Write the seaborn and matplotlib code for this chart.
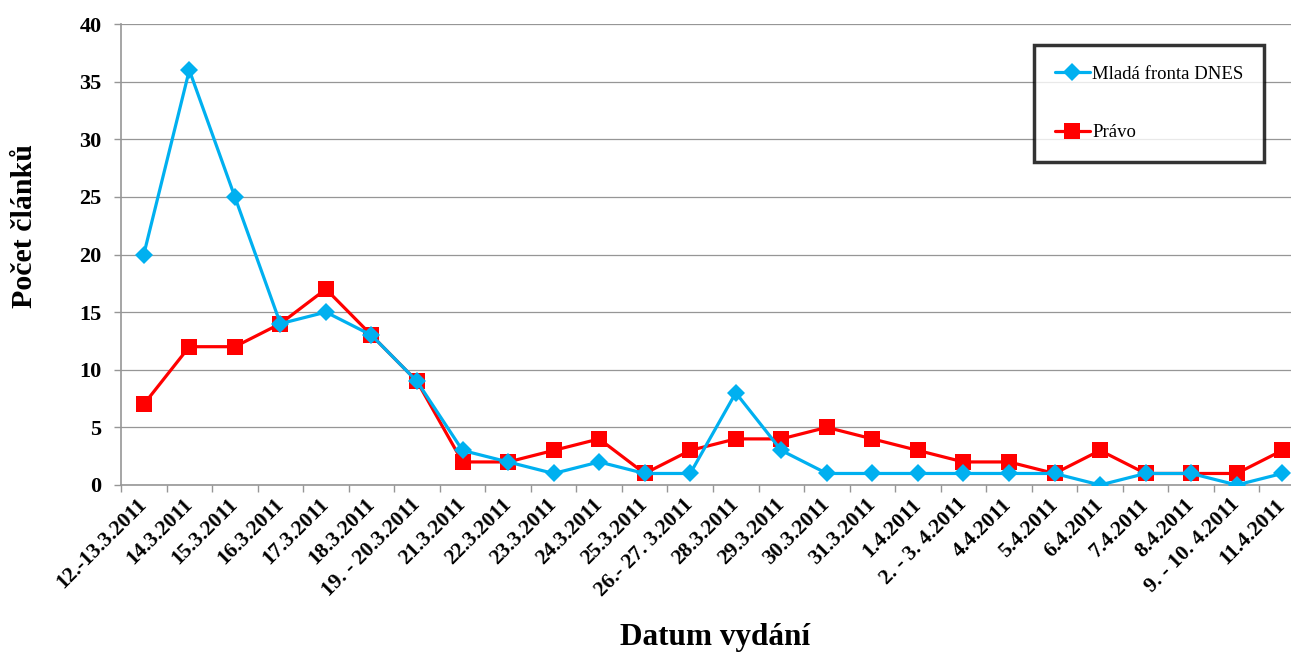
import pandas as pd
import numpy as np
import matplotlib
matplotlib.use("Agg")
import matplotlib.pyplot as plt
import seaborn as sns

dates = ["12.-13.3.2011", "14.3.2011", "15.3.2011", "16.3.2011", "17.3.2011", "18.3.2011",
         "19. - 20.3.2011", "21.3.2011", "22.3.2011", "23.3.2011", "24.3.2011", "25.3.2011",
         "26.- 27. 3.2011", "28.3.2011", "29.3.2011", "30.3.2011", "31.3.2011", "1.4.2011",
         "2. - 3. 4.2011", "4.4.2011", "5.4.2011", "6.4.2011", "7.4.2011", "8.4.2011",
         "9. - 10. 4.2011", "11.4.2011"]
mf_dnes = [20, 36, 25, 14, 15, 13, 9, 3, 2, 1, 2, 1, 1, 8, 3, 1, 1, 1, 1, 1, 1, 0, 1, 1, 0, 1]
pravo = [7, 12, 12, 14, 17, 13, 9, 2, 2, 3, 4, 1, 3, 4, 4, 5, 4, 3, 2, 2, 1, 3, 1, 1, 1, 3]
series_names = ["Mladá fronta DNES", "Právo"]

sns.set_style("white")
plt.rcParams['font.family'] = ['Liberation Serif', 'DejaVu Serif']
plt.rcParams['text.color'] = 'black'
plt.rcParams['axes.labelcolor'] = 'black'

df = pd.concat([
    pd.DataFrame({'pos': np.arange(len(dates)), 'pocet': mf_dnes, 'noviny': series_names[0]}),
    pd.DataFrame({'pos': np.arange(len(dates)), 'pocet': pravo, 'noviny': series_names[1]}),
])

fig = plt.figure(figsize=(12.91, 6.53), dpi=100)
# the category axis runs a little past the right edge of the picture, like the original
ax = fig.add_axes([121 / 1291, 168 / 653, 1184 / 1291, 461 / 653])

palette = {series_names[0]: '#00B0F0', series_names[1]: '#FF0000'}
markers = {series_names[0]: 'D', series_names[1]: 's'}
for name in series_names:
    sub = df[df['noviny'] == name]
    sns.lineplot(data=sub, x='pos', y='pocet', color=palette[name], marker=markers[name],
                 markersize=9 if name == series_names[0] else 11, markeredgewidth=0,
                 linewidth=2.3, label=name, ax=ax, zorder=3 if name == series_names[1] else 4)

ax.set_xlim(-0.5, len(dates) - 0.5)
ax.set_ylim(0, 40)
ax.set_yticks(range(0, 41, 5))
ax.yaxis.grid(True, color='#969696', linewidth=0.9)
ax.set_axisbelow(True)

ax.set_xticks(np.arange(len(dates)))
ax.set_xticklabels(dates, rotation=45, ha='right', va='center', rotation_mode='anchor',
                   fontsize=15.5, fontweight='bold')
ax.set_xticks(np.arange(len(dates) + 1) - 0.5, minor=True)
ax.tick_params(axis='x', which='major', length=0, pad=12, labelcolor='black')
ax.tick_params(axis='x', which='minor', length=5, color='#969696', width=1, direction='out')
ax.tick_params(axis='y', length=5, color='#969696', width=1, direction='out', pad=9,
               labelcolor='black')
for lbl in ax.get_yticklabels():
    lbl.set_fontsize(16)
    lbl.set_fontweight('bold')
ax.tick_params(axis='x', bottom=True, which='both')
ax.tick_params(axis='y', left=True)

for side in ['top', 'right']:
    ax.spines[side].set_visible(False)
for side in ['left', 'bottom']:
    ax.spines[side].set_color('#969696')
    ax.spines[side].set_linewidth(1.2)

ax.set_xlabel("Datum vydání", fontsize=22.5, fontweight='bold')
ax.set_ylabel("Počet článků", fontsize=21.5, fontweight='bold')
ax.xaxis.set_label_coords((715 - 121) / 1184, (485 - 623) / 461)
ax.yaxis.set_label_coords(-(121 - 38) / 1184, (485 - 226) / 461)

leg = ax.legend(loc='upper left', bbox_to_anchor=((1034 - 121) / 1184, (485 - 45) / 461),
                frameon=True, fancybox=False, fontsize=13.5, labelspacing=2.2,
                borderpad=1.1, handlelength=1.9, handletextpad=0.1, borderaxespad=0)
leg.get_frame().set_edgecolor('black')
leg.get_frame().set_linewidth(2.5)
for txt in leg.get_texts():
    txt.set_color('black')

fig.savefig("out.png", dpi=100)
